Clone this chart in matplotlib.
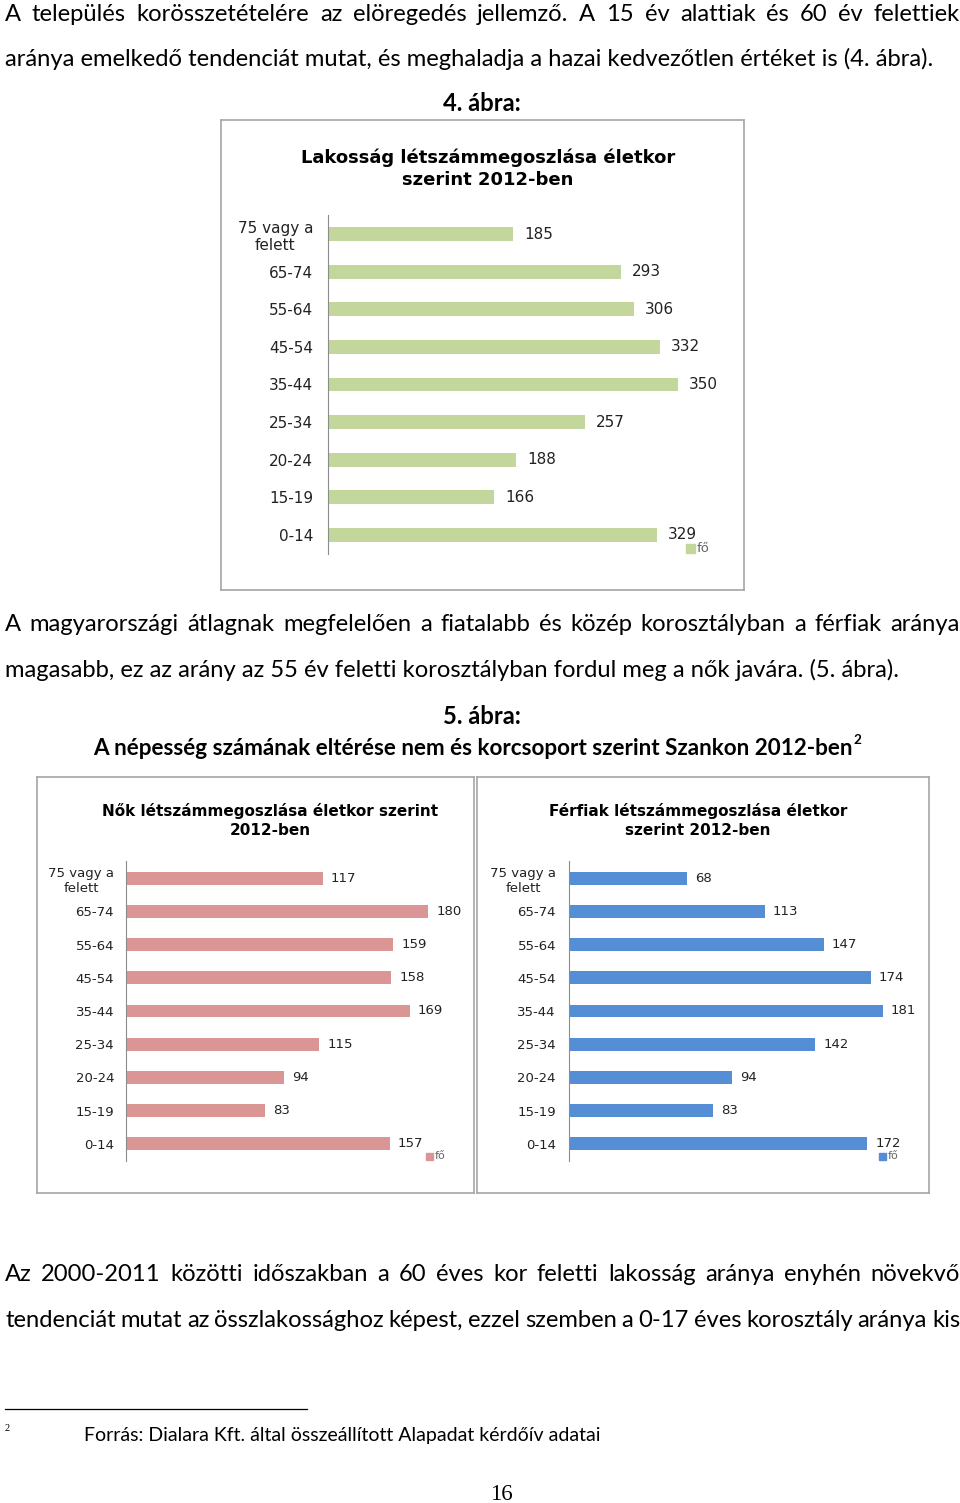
import numpy as np
import matplotlib.pyplot as plt
from matplotlib.patches import Rectangle

W, H = 960, 1503
fig = plt.figure(figsize=(9.6, 15.03), dpi=100)
renderer = fig.canvas.get_renderer()

# data
age_groups = ['75 vagy a\nfelett', '65-74', '55-64', '45-54', '35-44',
              '25-34', '20-24', '15-19', '0-14']
total = [185, 293, 306, 332, 350, 257, 188, 166, 329]
women = [117, 180, 159, 158, 169, 115, 94, 83, 157]
men = [68, 113, 147, 174, 181, 142, 94, 83, 172]

body_font = 'Lato'


def rect(x0, y0, x1, y1):
    return [x0 / W, 1 - y1 / H, (x1 - x0) / W, (y1 - y0) / H]


def text_width(s, **kw):
    t = fig.text(0, 0, s, **kw)
    w = t.get_window_extent(renderer).width
    t.remove()
    return w


def fit_size(s, width, **kw):
    # font size that makes s about `width` pixels wide
    return 20 * width / text_width(s, fontsize=20, **kw)


def put(s, x, y, **kw):
    return fig.text(x / W, 1 - y / H, s, va='baseline', **kw)


def justify(s, x0, x1, y, **kw):
    words = s.split()
    widths = [text_width(w, **kw) for w in words]
    gap = (x1 - x0 - sum(widths)) / (len(words) - 1)
    x = x0
    for w, wd in zip(words, widths):
        put(w, x, y, ha='left', **kw)
        x += wd + gap


def chart(box, area, values, color, xmax, title, tx, ty, title_fs, fs,
          bar_h, pad, lab_off, leg_x, leg_y, leg_s):
    bx = fig.add_axes(rect(*box))
    bx.set_xticks([])
    bx.set_yticks([])
    for sp in bx.spines.values():
        sp.set_color('#A6A6A6')
        sp.set_linewidth(1.2)
    bx.set_zorder(0)

    ax = fig.add_axes(rect(*area))
    ax.set_zorder(1)
    ax.patch.set_visible(False)
    y = np.arange(len(age_groups))
    ax.barh(y, values, height=bar_h, color=color)
    ax.set_ylim(len(y) - 0.5, -0.5)
    ax.set_xlim(0, xmax)
    ax.set_xticks([])
    ax.set_yticks(y)
    ax.set_yticklabels(age_groups, fontsize=fs, color='#222222')
    for lab in ax.get_yticklabels():
        lab.set_multialignment('center')
        lab.set_linespacing(1.2)
    ax.tick_params(axis='y', length=0, pad=pad)
    for s in ['top', 'right', 'bottom']:
        ax.spines[s].set_visible(False)
    ax.spines['left'].set_color('#8C8C8C')
    for yi, v in zip(y, values):
        ax.annotate(str(v), (v, yi), xytext=(lab_off, 0),
                    textcoords='offset pixels', va='center', ha='left',
                    fontsize=fs, color='#222222')

    fig.text(tx / W, 1 - ty / H, title, ha='center', va='center',
             fontsize=title_fs, fontweight='bold', linespacing=1.3)

    fig.add_artist(Rectangle((leg_x / W, 1 - (leg_y + leg_s / 2) / H),
                             leg_s / W, leg_s / H, color=color,
                             transform=fig.transFigure))
    fig.text((leg_x + leg_s + 2) / W, 1 - leg_y / H, 'fő', va='center',
             ha='left', fontsize=fs - 1.5, color='#666666')


# body text
body_fs = fit_size('aránya emelkedő tendenciát mutat, és meghaladja a hazai '
                   'kedvezőtlen értéket is (4. ábra).', 930, fontfamily=body_font)
bkw = dict(fontfamily=body_font, fontsize=body_fs, color='black')

justify('A település korösszetételére az elöregedés jellemző. A 15 év '
        'alattiak és 60 év felettiek', 5, 960, 21, **bkw)
put('aránya emelkedő tendenciát mutat, és meghaladja a hazai kedvezőtlen '
    'értéket is (4. ábra).', 5, 66, ha='left', **bkw)
put('4. ábra:', 482, 111, ha='center', fontweight='bold', **bkw)

justify('A magyarországi átlagnak megfelelően a fiatalabb és közép '
        'korosztályban a férfiak aránya', 5, 960, 631, **bkw)
put('magasabb, ez az arány az 55 év feletti korosztályban fordul meg a nők '
    'javára. (5. ábra).', 5, 677, ha='left', **bkw)
put('5. ábra:', 482, 724, ha='center', fontweight='bold', **bkw)

title2 = 'A népesség számának eltérése nem és korcsoport szerint Szankon 2012-ben'
t2_fs = fit_size(title2, 763, fontfamily=body_font, fontweight='bold')
t2 = put(title2, 93, 755, ha='left', fontfamily=body_font, fontweight='bold',
         fontsize=t2_fs)
t2_end = t2.get_window_extent(renderer).x1
fig.text((t2_end + 1) / W, 1 - 744 / H, '2', va='baseline', ha='left',
         fontfamily=body_font, fontweight='bold', fontsize=t2_fs * 0.6)

justify('Az 2000-2011 közötti időszakban a 60 éves kor feletti lakosság '
        'aránya enyhén növekvő', 5, 960, 1281, **bkw)
justify('tendenciát mutat az összlakossághoz képest, ezzel szemben a 0-17 '
        'éves korosztály aránya kis', 5, 960, 1327, **bkw)

# footnote
fig.add_artist(plt.Line2D([5 / W, 307 / W], [1 - 1409 / H, 1 - 1409 / H],
                          color='black', linewidth=0.9,
                          transform=fig.transFigure))
put('2', 5, 1431, ha='left', fontfamily='Liberation Serif', fontsize=7.5)
note = 'Forrás: Dialara Kft. által összeállított Alapadat kérdőív adatai'
put(note, 84, 1441, ha='left', fontfamily=body_font,
    fontsize=fit_size(note, 516, fontfamily=body_font))
put('16', 501, 1500, ha='center', fontfamily='Liberation Serif', fontsize=16.5)

# charts
chart((221, 120, 744, 590), (328, 215.2, 728, 553.8), total, '#C3D69B', 400,
      'Lakosság létszámmegoszlása életkor\nszerint 2012-ben', 488, 169,
      13, 11, 0.37, 10.8, 11, 686, 548, 9)
chart((37, 777, 474, 1193), (126, 861.4, 462, 1160.6), women, '#D99694', 200,
      'Nők létszámmegoszlása életkor szerint\n2012-ben', 270, 820.5,
      11, 9.5, 0.39, 8.6, 8, 426, 1156, 7)
chart((477, 777, 929, 1193), (569, 861.4, 916, 1160.6), men, '#558ED5', 200,
      'Férfiak létszámmegoszlása életkor\nszerint 2012-ben', 698, 820.5,
      11, 9.5, 0.39, 9.4, 8, 879, 1156, 7)

fig.savefig('out.png', dpi=100)
